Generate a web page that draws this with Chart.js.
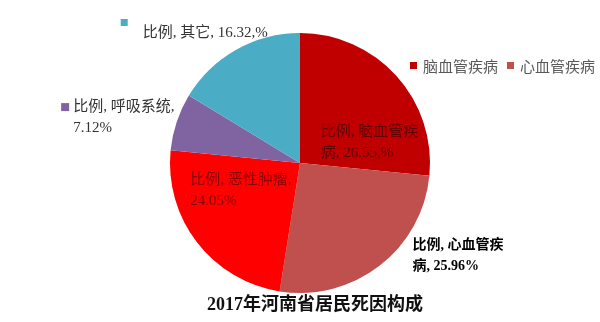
<!DOCTYPE html>
<html>
<head>
<meta charset="utf-8">
<script src="https://cdn.jsdelivr.net/npm/chart.js@4"></script>
<style>
  html, body { margin: 0; padding: 0; background: #fff; }
  #wrap { width: 600px; height: 322px; }
</style>
</head>
<body>
<div id="wrap"><canvas id="pie"></canvas></div>
<script>
// données
const categories = ['脑血管疾病', '心血管疾病', '恶性肿瘤', '呼吸系统', '其它'];
const values = [26.55, 25.96, 24.05, 7.12, 16.32];
const colors = ['#C00000', '#C0504D', '#FF0000', '#8064A2', '#4BACC6'];
const legendShown = [0, 1];
const pctComma = [true, false, false, false, true]; // "16.32,%" tel quel
const lineBreakAt = [8, 8, 9, 9, 0];
const titleText = '2017年河南省居民死因构成';

// position des étiquettes (fraction du rayon, depuis le centre)
const labelSpots = [
  { dx: 0.16, dy: -0.24, color: '#600000', bold: false, marker: false, size: 15 },
  { dx: 0.865, dy: 0.63, color: '#000000', bold: true, marker: false, size: 14 },
  { dx: -0.845, dy: 0.135, color: '#8a0000', bold: false, marker: false, size: 15 },
  { dx: -1.745, dy: -0.43, color: '#333333', bold: false, marker: true, size: 15 },
  { dx: -1.21, dy: -1.0, color: '#333333', bold: false, marker: true, size: 15 }
];

const serif = '"Liberation Serif", "Noto Sans CJK SC", serif';

function labelLines(i) {
  const full = `比例, ${categories[i]}, ${values[i].toFixed(2)}${pctComma[i] ? ',%' : '%'}`;
  const cut = lineBreakAt[i];
  if (!cut) return [full];
  return [full.slice(0, cut).trim(), full.slice(cut).trim()];
}

const sliceLabels = {
  id: 'sliceLabels',
  afterDatasetsDraw(chart) {
    const ctx = chart.ctx;
    const meta = chart.getDatasetMeta(0);
    ctx.save();
    ctx.textBaseline = 'middle';
    ctx.textAlign = 'left';
    meta.data.forEach((arc, i) => {
      const s = labelSpots[i];
      const r = arc.outerRadius;
      const x = arc.x + s.dx * r;
      const y = arc.y + s.dy * r;
      ctx.font = (s.bold ? 'bold ' : '') + s.size + 'px ' + serif;
      ctx.fillStyle = s.color;
      labelLines(i).forEach((t, k) => ctx.fillText(t, x, y + k * 21));
      if (s.marker) {
        ctx.fillStyle = colors[i];
        if (i === 4) ctx.fillRect(x - 22, y - 14, 7, 7);
        else ctx.fillRect(x - 12, y - 4, 8, 8);
      }
    });

    // légende (deux premières catégories seulement)
    ctx.font = '15px "Noto Sans CJK SC", sans-serif';
    let lx = 410;
    const ly = 66;
    legendShown.forEach(i => {
      ctx.fillStyle = colors[i];
      ctx.fillRect(lx, ly - 4, 7, 7);
      ctx.fillStyle = '#595959';
      ctx.fillText(categories[i], lx + 13, ly);
      lx += 13 + ctx.measureText(categories[i]).width + 9;
    });

    // titre en bas, un peu décalé à droite comme l'original
    ctx.font = 'bold 18px ' + serif;
    ctx.fillStyle = '#111';
    ctx.textAlign = 'center';
    ctx.fillText(titleText, 315, 305);
    ctx.restore();
  }
};

new Chart(document.getElementById('pie'), {
  type: 'pie',
  data: {
    labels: categories,
    datasets: [{
      data: values,
      backgroundColor: colors,
      borderWidth: 0,
      hoverOffset: 0,
      radius: 130
    }]
  },
  options: {
    responsive: true,
    maintainAspectRatio: false,
    animation: false,
    layout: { padding: { top: 34, bottom: 30, left: 0, right: 0 } },
    plugins: {
      legend: { display: false },
      tooltip: { enabled: false },
      title: { display: false }
    }
  },
  plugins: [sliceLabels]
});
</script>
</body>
</html>
